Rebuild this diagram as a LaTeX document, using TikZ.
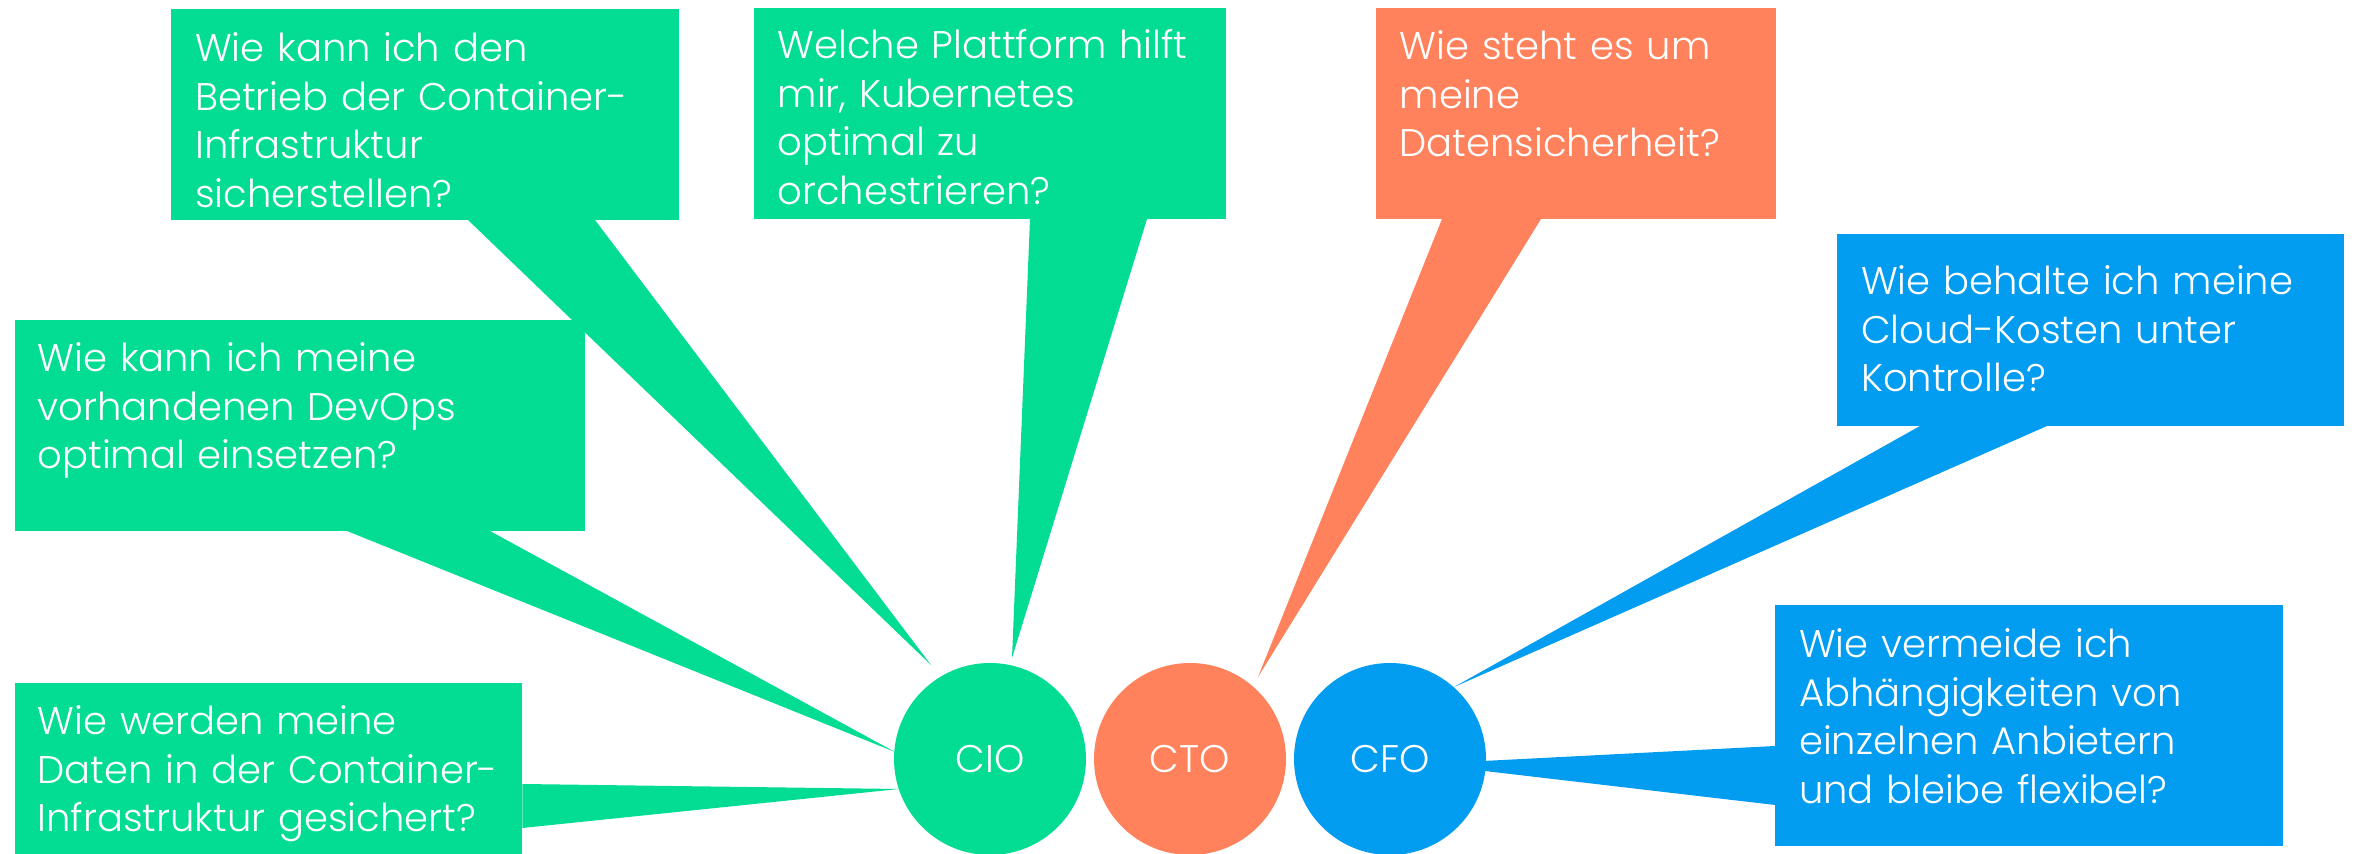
\documentclass[tikz,border=0pt]{standalone}
\usepackage{fontspec}
\setmainfont{Poppins}[UprightFont=* Light]
\usetikzlibrary{calc}

\definecolor{cgreen}{RGB}{2,221,147}
\definecolor{corange}{RGB}{255,130,92}
\definecolor{cblue}{RGB}{2,156,240}

\begin{document}
\begin{tikzpicture}[x=1pt, y=1pt,
    qbox/.style={anchor=south west, inner sep=0pt, draw=none},
    qtext/.style={anchor=base west, inner sep=0pt, text=white, align=left,
      text width=#1, font=\fontsize{38.5}{48.5}\selectfont},
    qtext/.default=480pt,
    role/.style={circle, inner sep=0pt, minimum size=192pt, text=white,
      font=\fontsize{38.5}{48.5}\selectfont}]
    \useasboundingbox (0,0) rectangle (2356,854);

    % boxes
    \node[qbox, fill=cgreen, minimum width=508pt, minimum height=211pt] (q1) at (171,634) {};
    \node[qbox, fill=cgreen, minimum width=472pt, minimum height=211pt] (q2) at (754,635) {};
    \node[qbox, fill=cgreen, minimum width=570pt, minimum height=211pt] (q3) at (15,323) {};
    \node[qbox, fill=cgreen, minimum width=507pt, minimum height=171pt] (q4) at (15,0) {};
    \node[qbox, fill=corange, minimum width=400pt, minimum height=211pt] (q5) at (1376,635) {};
    \node[qbox, fill=cblue, minimum width=507pt, minimum height=192pt] (q6) at (1837,428) {};
    \node[qbox, fill=cblue, minimum width=508pt, minimum height=241pt] (q7) at (1775,8) {};

    % tips
    \coordinate (tip1) at (931,189);
    \coordinate (tip2) at (1012,196);
    \coordinate (tip3) at (895,102);
    \coordinate (tip4) at (899,65);
    \coordinate (tip5) at (1258,177);
    \coordinate (tip6) at (1454,167);
    \coordinate (tip7) at (1425,90);

    % tails
    \fill[cgreen] ($(q1.south west)+(297,0)$) -- ($(q1.south west)+(424,0)$) -- (tip1) -- cycle;
    \fill[cgreen] ($(q2.south west)+(276,0)$) -- ($(q2.south west)+(393,0)$) -- (tip2) -- cycle;
    \fill[cgreen] ($(q3.south west)+(332,0)$) -- ($(q3.south west)+(475,0)$) -- (tip3) -- cycle;
    \fill[cgreen] ($(q4.south east)+(0,70)$) -- ($(q4.south east)+(0,26)$) -- (tip4) -- cycle;
    \fill[corange] ($(q5.south west)+(66,0)$) -- ($(q5.south west)+(165,0)$) -- (tip5) -- cycle;
    \fill[cblue] ($(q6.south west)+(83,0)$) -- ($(q6.south west)+(210,0)$) -- (tip6) -- cycle;
    \fill[cblue] ($(q7.south west)+(0,100)$) -- ($(q7.south west)+(0,41)$) -- (tip7) -- cycle;

    % roles
    \node[role, fill=cgreen] (cio) at (990,95) {CIO};
    \node[role, fill=corange] (cto) at (1190,95) {CTO};
    \node[role, fill=cblue] (cfo) at (1390,95) {CFO};

    % questions
    \node[qtext] (t1) at ($(q1.north west)+(24,-53)$) {Wie kann ich den\\Betrieb der Container-\\Infrastruktur\\sicherstellen?};
    \node[qtext] (t2) at ($(q2.north west)+(23.5,-51)$) {Welche Plattform hilft\\mir, Kubernetes\\optimal zu\\orchestrieren?};
    \node[qtext] (t3) at ($(q3.north west)+(22.5,-52)$) {Wie kann ich meine\\vorhandenen DevOps\\optimal einsetzen?};
    \node[qtext] (t4) at ($(q4.north west)+(22.5,-52)$) {Wie werden meine\\Daten in der Container-\\Infrastruktur gesichert?};
    \node[qtext] (t5) at ($(q5.north west)+(23.5,-52)$) {Wie steht es um\\meine\\Datensicherheit?};
    \node[qtext] (t6) at ($(q6.north west)+(24,-61)$) {Wie behalte ich meine\\Cloud-Kosten unter\\Kontrolle?};
    \node[qtext] (t7) at ($(q7.north west)+(24,-53)$) {Wie vermeide ich\\Abhängigkeiten von\\einzelnen Anbietern\\und bleibe flexibel?};
  \end{tikzpicture}
\end{document}
